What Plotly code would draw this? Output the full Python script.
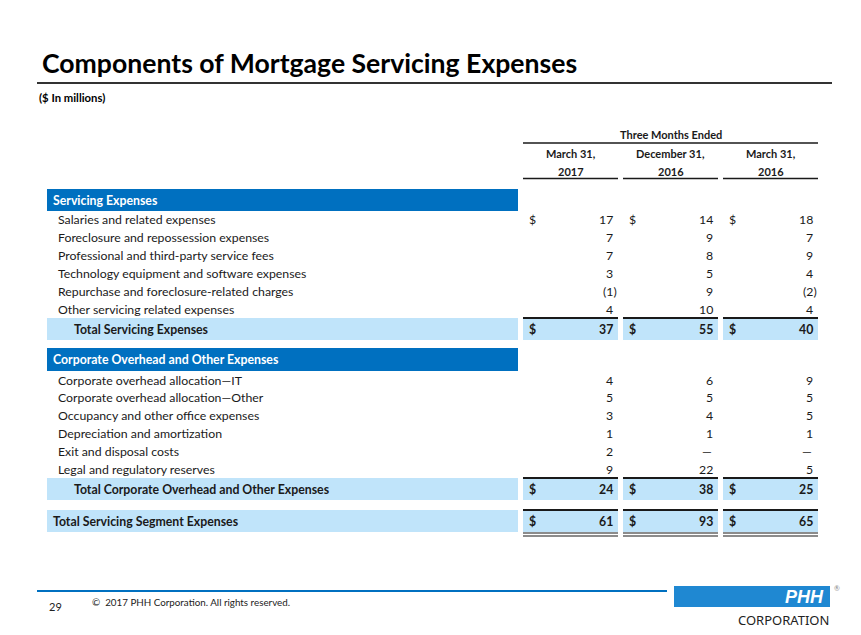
import plotly.graph_objects as go

# ---- data ----
title = "Components of Mortgage Servicing Expenses"
units = "($ In millions)"
period_group = "Three Months Ended"
period_month = ["March 31,", "December 31,", "March 31,"]
period_year = ["2017", "2016", "2016"]

servicing_items = [
    "Salaries and related expenses",
    "Foreclosure and repossession expenses",
    "Professional and third-party service fees",
    "Technology equipment and software expenses",
    "Repurchase and foreclosure-related charges",
    "Other servicing related expenses",
]
servicing_mar17 = [17, 7, 7, 3, -1, 4]
servicing_dec16 = [14, 9, 8, 5, 9, 10]
servicing_mar16 = [18, 7, 9, 4, -2, 4]
servicing_total = [37, 55, 40]

overhead_items = [
    "Corporate overhead allocation\u2014IT",
    "Corporate overhead allocation\u2014Other",
    "Occupancy and other office expenses",
    "Depreciation and amortization",
    "Exit and disposal costs",
    "Legal and regulatory reserves",
]
overhead_mar17 = [4, 5, 3, 1, 2, 9]
overhead_dec16 = [6, 5, 4, 1, None, 22]
overhead_mar16 = [9, 5, 5, 1, None, 5]
overhead_total = [24, 38, 25]

segment_total = [61, 93, 65]

# ---- styling ----
W, H = 861, 635
PAGE_MARGIN = 8  # default body margin of the html page
FONT = "Lato"
INK = "#1a1a1a"
DARK_BLUE = "#0070C0"
LIGHT_BLUE = "#C0E4FA"
LOGO_BLUE = "#1F88D2"
BODY = 12.3

label_left, label_right = 47, 518
col_left = [523, 623, 723]
col_right = [618, 718, 818]

shapes = []
annotations = []


def text(x, y, s, size=BODY, bold=False, color=INK, anchor="left", family=FONT):
    if bold:
        s = f"<b>{s}</b>"
    annotations.append(dict(
        x=x, y=y, xref="x", yref="y", text=s, showarrow=False,
        xanchor=anchor, yanchor="middle",
        font=dict(family=family, size=size, color=color),
    ))


def rect(x0, x1, y0, y1, color):
    shapes.append(dict(type="rect", xref="x", yref="y", x0=x0, x1=x1, y0=y0, y1=y1,
                       fillcolor=color, line=dict(width=0), layer="below"))


def hline(x0, x1, y, color=INK, width=1.5):
    shapes.append(dict(type="line", xref="x", yref="y", x0=x0, x1=x1, y0=y, y1=y,
                       line=dict(color=color, width=width)))


def value(i, y, v, bold=False, dollar=False):
    if dollar:
        text(col_left[i] + 4, y, "$", bold=bold)
    if v is None:
        text(col_right[i] - 4, y, "\u2014", anchor="right")
    elif v < 0:
        text(col_right[i] + 1, y, f"({-v})", bold=bold, anchor="right")
    else:
        text(col_right[i] - 3, y, str(v), bold=bold, anchor="right")


# title block
text(40, 63, title, size=26.6, bold=True, color="#000")
hline(37, 832, 83, color="#333", width=2)
text(37, 97, units, size=11.3, bold=True, color="#000")

# column headers
mid = (col_left[0] + col_right[-1]) / 2
text(mid, 134, period_group, size=11, bold=True, anchor="center")
hline(col_left[0], col_right[-1], 143, width=1.5)
for i in range(3):
    c = (col_left[i] + col_right[i]) / 2
    text(c, 153, period_month[i], size=11, bold=True, anchor="center")
    text(c, 171, period_year[i], size=11, bold=True, anchor="center")
    hline(col_left[i], col_right[i], 178.5, width=1.5)


def section(header, y_band, items, cols, total, y_first, step, total_band, total_label,
            first_dollar, indent=72):
    rect(label_left, label_right, y_band[0], y_band[1], DARK_BLUE)
    text(51, (y_band[0] + y_band[1]) / 2, header, bold=True, color="white")
    for r, item in enumerate(items):
        y = y_first + r * step
        text(56, y, item)
        for i in range(3):
            value(i, y, cols[i][r], dollar=(r == 0 and first_dollar))
    t0, t1 = total_band
    tc = (t0 + t1) / 2
    rect(label_left, label_right, t0, t1, LIGHT_BLUE)
    text(indent, tc, total_label, bold=True)
    for i in range(3):
        rect(col_left[i], col_right[i], t0, t1, LIGHT_BLUE)
        hline(col_left[i], col_right[i], t0, width=1.8)
        value(i, tc, total[i], bold=True, dollar=True)


section("Servicing Expenses", (189, 211), servicing_items,
        [servicing_mar17, servicing_dec16, servicing_mar16], servicing_total,
        219, 18, (318, 340), "Total Servicing Expenses", True)

section("Corporate Overhead and Other Expenses", (348, 371), overhead_items,
        [overhead_mar17, overhead_dec16, overhead_mar16], overhead_total,
        380, 17.8, (478, 500), "Total Corporate Overhead and Other Expenses", False)

# grand total
rect(label_left, label_right, 510, 532, LIGHT_BLUE)
text(51, 521, "Total Servicing Segment Expenses", bold=True)
for i in range(3):
    rect(col_left[i], col_right[i], 510, 532, LIGHT_BLUE)
    hline(col_left[i], col_right[i], 510, width=1.8)
    hline(col_left[i], col_right[i], 533, width=1.2)
    hline(col_left[i], col_right[i], 536, width=1.2)
    value(i, 521, segment_total[i], bold=True, dollar=True)

# footer
hline(37, 667, 591, color=DARK_BLUE, width=2)
text(47, 606, "29", size=11, color="#222")
text(90, 602, "\u00a9  2017 PHH Corporation. All rights reserved.", size=9.8, color="#222")
rect(674, 830, 586, 607, LOGO_BLUE)
text(826, 597, "<i>PHH</i>", size=18, bold=True, color="white", anchor="right", family="Liberation Sans")
text(837, 588, "\u00ae", size=7, color="#888", anchor="center")
text(831, 620, "CORPORATION", size=13, color="#222", anchor="right", family="Noto Sans")

fig = go.Figure()
fig.add_trace(go.Scatter(x=[0, W], y=[0, H], mode="markers", marker=dict(opacity=0),
                         hoverinfo="skip", showlegend=False))
fig.update_layout(
    width=W, height=H, margin=dict(l=0, r=0, t=0, b=0),
    paper_bgcolor="white", plot_bgcolor="white",
    shapes=shapes, annotations=annotations, showlegend=False,
    # shift the coordinate frame so slide pixels land on screen pixels
    xaxis=dict(range=[PAGE_MARGIN, W + PAGE_MARGIN], visible=False, fixedrange=True),
    yaxis=dict(range=[H + PAGE_MARGIN, PAGE_MARGIN], visible=False, fixedrange=True),
)
fig.write_html("out.html")
